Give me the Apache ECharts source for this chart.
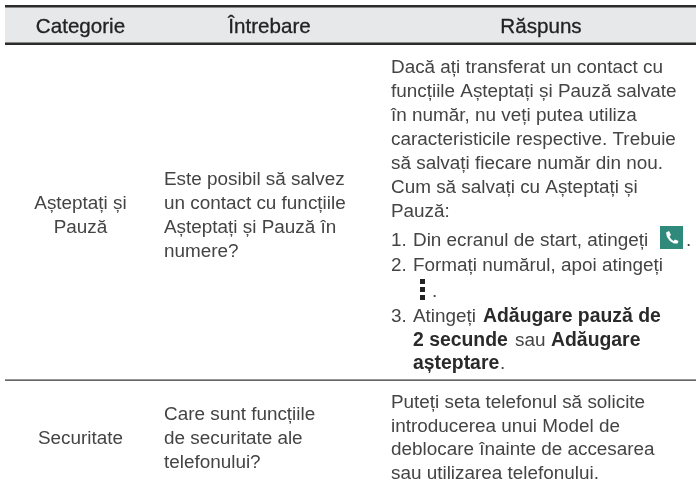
<!DOCTYPE html>
<html><head><meta charset="utf-8">
<style>html,body{margin:0;padding:0;background:#fff}#c{width:696px;height:488px}</style>
<script src="https://cdn.jsdelivr.net/npm/echarts@6/dist/echarts.min.js"></script>
</head><body><div id="c"></div>
<script>
const headers = ['Categorie', 'Întrebare', 'Răspuns'];
const categoryRow1 = ['Așteptați și', 'Pauză'];
const questionRow1 = ['Este posibil să salvez', 'un contact cu funcțiile', 'Așteptați și Pauză în', 'numere?'];
const answerRow1 = ['Dacă ați transferat un contact cu', 'funcțiile Așteptați și Pauză salvate', 'în număr, nu veți putea utiliza', 'caracteristicile respective. Trebuie', 'să salvați fiecare număr din nou.', 'Cum să salvați cu Așteptați și', 'Pauză:'];
const stepNumbers = ['1.', '2.', '3.'];
const stepRows = ['Din ecranul de start, atingeți', 'Formați numărul, apoi atingeți', 'Atingeți'];
const boldTerms = ['Adăugare pauză de', '2 secunde', 'Adăugare', 'așteptare'];
const categoryRow2 = ['Securitate'];
const questionRow2 = ['Care sunt funcțiile', 'de securitate ale', 'telefonului?'];
const answerRow2 = ['Puteți seta telefonul să solicite', 'introducerea unui Model de', 'deblocare înainte de accesarea', 'sau utilizarea telefonului.'];

const FONT = '"Liberation Sans", Arial, sans-serif';
const INK = '#444444', BOLD = '#2a2a2a', FS = 18.9, BFS = 19.4;
const els = [];
function T(s, x, b, opt) {
  opt = opt || {};
  els.push({type:'text', x, y: b+5, style: Object.assign({
    text:s, x:0, y:0, fill:INK, font: FS+'px '+FONT, textAlign:opt.align||'left', textVerticalAlign:'bottom'
  }, opt.style||{})});
}
function rect(x,y,w,h,fill){ els.push({type:'rect', shape:{x,y,width:w,height:h}, style:{fill}}); }
const bs = {style:{font:'bold '+BFS+'px '+FONT, fill:BOLD}};

rect(5,6,691,38,'#e7e8e9');
rect(5,5,691,2.5,'#2b2b2b');
rect(5,42.5,691,2.5,'#2b2b2b');
rect(5,379.5,691,1.2,'#333');

const hs = {fill:'#222', font:'20.6px '+FONT, stroke:'#222', lineWidth:0.3};
T(headers[0], 80.5, 32.5, {align:'center', style:hs});
T(headers[1], 269.5, 32.5, {align:'center', style:hs});
T(headers[2], 541, 32.5, {align:'center', style:hs});

categoryRow1.forEach((s,i)=>T(s,80.5,[208,232][i],{align:'center'}));
questionRow1.forEach((s,i)=>T(s,164,[184,208,232,256][i]));
answerRow1.forEach((s,i)=>T(s,391,[72,96.5,120.5,144,168,192,216][i]));

T(stepNumbers[0],391,245); T(stepRows[0],413,245); T('.',686,245);
T(stepNumbers[1],391,270.5); T(stepRows[1],413,270.5); T('.',432,296);
T(stepNumbers[2],391,321); T(stepRows[2],413,321); T(boldTerms[0],483,321,bs);
T(boldTerms[1],413,345,bs); T('sau',515,345); T(boldTerms[2],551,345,bs);
T(boldTerms[3],413,368.5,bs); T('.',500,368.5);

categoryRow2.forEach(s=>T(s,80.5,443,{align:'center'}));
questionRow2.forEach((s,i)=>T(s,164,[419,443,467][i]));
answerRow2.forEach((s,i)=>T(s,391,[407,431,454,478][i]));

rect(660,226,23,23,'#2f8a7c');
els.push({type:'polygon',shape:{points:[[666,232.5],[669,231],[671,235],[669.5,236.5],[671,239],[673.5,241],[675,239.5],[678.5,241],[677.5,243.5],[674,243.5],[670,241],[667,237]]},style:{fill:'#fff'}});
rect(420,279,5,5,'#222');rect(420,287,5,5,'#222');rect(420,295,5,5,'#222');

const chart = echarts.init(document.getElementById('c'),null,{renderer:'canvas'});
chart.setOption({animation:false,graphic:{elements:els}});
</script></body></html>
